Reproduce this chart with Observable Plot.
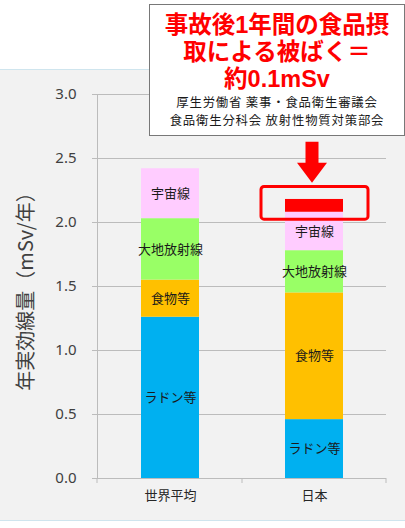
<!DOCTYPE html>
<html lang="ja">
<head>
<meta charset="utf-8">
<script src="https://cdn.jsdelivr.net/npm/d3@7"></script>
<script src="https://cdn.jsdelivr.net/npm/@observablehq/plot@0.6"></script>
<style>
  html, body { margin: 0; padding: 0; background: #ffffff; }
  #wrap { position: relative; width: 405px; height: 528px; overflow: hidden; }
  #panel {
    position: absolute; left: 0; top: 69px; width: 405px; height: 452px;
    box-sizing: border-box; background: #f2f2f2;
    border-top: 1px solid #cfe5ee; border-bottom: 1px solid #cfe5ee;
  }
  #chart { position: absolute; left: 0; top: 0; }
  #note {
    position: absolute; left: 149px; top: 4px; width: 256px; height: 132px;
    box-sizing: border-box; background: #ffffff; border: 1.5px solid #787878;
  }
  #note div { position: absolute; left: 0; right: 0; text-align: center; white-space: nowrap; }
  #note .red {
    color: #ff0000; font-weight: bold; font-size: 23.5px; line-height: 26.5px; height: 26.5px;
    font-family: "Liberation Sans", "Noto Sans CJK JP", sans-serif;
  }
  #note .src {
    color: #1a1a1a; font-size: 12.4px; line-height: 18px; height: 18px; letter-spacing: 0.8px;
    font-family: "Noto Sans CJK JP", sans-serif;
  }
</style>
</head>
<body>
<div id="wrap">
  <div id="panel"></div>
  <div id="chart"></div>
  <div id="note"></div>
</div>
<script>
// Annual effective dose by source (mSv/year)
const categories = ["世界平均", "日本"];
const components = ["ラドン等", "食物等", "大地放射線", "宇宙線"];
const worldValues = [1.26, 0.29, 0.48, 0.39];
const japanValues = [0.46, 0.99, 0.33, 0.30];
const componentColors = ["#00b0f0", "#ffc000", "#99ff66", "#ffccff"];
const yTicks = [0, 0.5, 1.0, 1.5, 2.0, 2.5, 3.0];
const yLabel = "年実効線量（mSv/年）";

// Dose from food in the first year after the accident
const foodDoseAfterAccident = 0.1;
const noteLines = ["事故後1年間の食品摂", "取による被ばく＝", `約${foodDoseAfterAccident}mSv`];
const sourceLines = ["厚生労働省 薬事・食品衛生審議会", "食品衛生分科会 放射性物質対策部会"];

const seriesByCategory = [worldValues, japanValues];
const rows = categories.flatMap((country, i) =>
  components.map((component, j) => ({country, component, value: seriesByCategory[i][j]}))
);
const japanTotal = d3.sum(japanValues);
const accidentRow = [{country: "日本", base: japanTotal, top: japanTotal + foodDoseAfterAccident}];

// Block arrow pointing along the vector
const blockArrow = {
  draw(context, l) {
    const head = 20, shaft = 6.5, wing = 15;
    context.moveTo(-shaft, 0);
    context.lineTo(-shaft, -(l - head));
    context.lineTo(-wing, -(l - head));
    context.lineTo(0, -l);
    context.lineTo(wing, -(l - head));
    context.lineTo(shaft, -(l - head));
    context.lineTo(shaft, 0);
    context.closePath();
  }
};

const gray = "#bcbcbc";

const chart = Plot.plot({
  width: 405,
  height: 528,
  marginTop: 94,
  marginBottom: 50,
  marginLeft: 97,
  marginRight: 19,
  style: {background: "transparent", fontFamily: "'Noto Sans CJK JP', sans-serif", overflow: "visible"},
  x: {domain: categories, paddingInner: 0.6, paddingOuter: 0.3, axis: null},
  y: {domain: [0, 3], axis: null},
  color: {domain: components, range: componentColors},
  marks: [
    Plot.gridY(yTicks, {stroke: gray, strokeOpacity: 1}),
    Plot.axisY({
      ticks: yTicks, tickSize: 5, tickPadding: 16, stroke: gray, strokeOpacity: 1,
      tickFormat: d => d.toFixed(1), fill: "#404040", fontSize: 15,
      fontFamily: "'Noto Sans', sans-serif", label: null
    }),
    Plot.frame({anchor: "left", stroke: gray}),
    Plot.barY(rows, {x: "country", y: "value", fill: "component"}),
    Plot.barY(accidentRow, {x: "country", y1: "base", y2: "top", fill: "#ff0000"}),
    Plot.text(rows, Plot.stackY({x: "country", y: "value", text: "component", fill: "#1a1a1a", fontSize: 13})),
    Plot.ruleY([0], {stroke: gray}),
    Plot.barY(accidentRow, {
      x: "country", y1: d => d.base - 0.058, y2: d => d.top + 0.097,
      insetLeft: -24, insetRight: -25, fill: "none", stroke: "#ff0000", strokeWidth: 3, rx: 3
    }),
    Plot.vector(accidentRow, {
      x: "country", y: d => d.top + 0.45, length: 41, rotate: 180, anchor: "start",
      shape: blockArrow, fill: "#ff0000", stroke: "none", dx: -2.5
    }),
    Plot.axisX({tickSize: 0, tickPadding: 12, fontSize: 13, fill: "#262626", label: null}),
    Plot.text([yLabel], {frameAnchor: "left", rotate: -90, dx: -71, textAnchor: "middle", fontSize: 20, fill: "#404040"})
  ]
});

// Category separators below the baseline
const xs = chart.scale("x");
const ys = chart.scale("y");
const bw = xs.bandwidth;
const p0 = xs.apply(categories[0]), p1 = xs.apply(categories[1]);
const boundaries = [xs.range[0], (p0 + bw + p1) / 2, xs.range[1]];
const y0 = ys.apply(0);
d3.select(chart).append("g")
  .attr("stroke", gray)
  .selectAll("line")
  .data(boundaries)
  .join("line")
  .attr("x1", d => d).attr("x2", d => d)
  .attr("y1", y0).attr("y2", y0 + 5);

document.getElementById("chart").append(chart);

// Callout text, one line per block
const note = document.getElementById("note");
const redTops = [7.25, 34.45, 61.45];
const srcTops = [88.3, 106.3];
noteLines.forEach((line, i) => {
  const div = document.createElement("div");
  div.className = "red";
  div.style.top = redTops[i] + "px";
  div.textContent = line;
  note.append(div);
});
sourceLines.forEach((line, i) => {
  const div = document.createElement("div");
  div.className = "src";
  div.style.top = srcTops[i] + "px";
  div.textContent = line;
  note.append(div);
});
</script>
</body>
</html>
